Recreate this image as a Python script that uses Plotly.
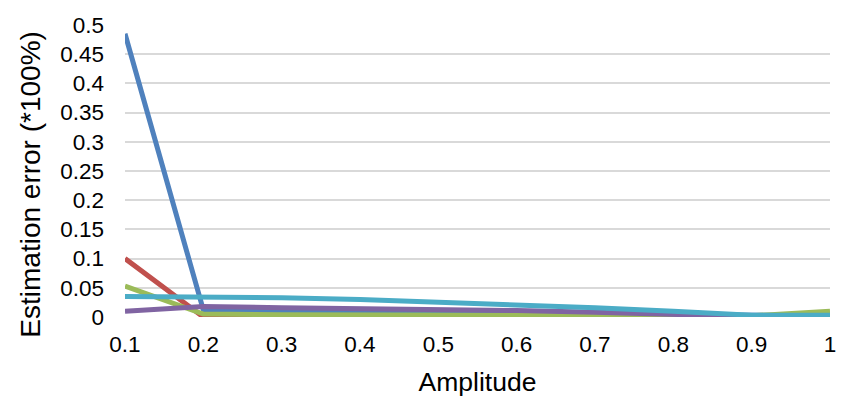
import plotly.graph_objects as go

amplitude = [0.1, 0.2, 0.3, 0.4, 0.5, 0.6, 0.7, 0.8, 0.9, 1.0]
series_blue = [0.485, 0.012, 0.010, 0.009, 0.008, 0.007, 0.006, 0.004, 0.002, 0.002]
series_red = [0.100, 0.000, 0.000, 0.000, 0.000, 0.000, 0.000, 0.000, 0.000, 0.000]
series_green = [0.053, 0.005, 0.004, 0.004, 0.004, 0.003, 0.003, 0.002, 0.002, 0.010]
series_purple = [0.010, 0.018, 0.016, 0.015, 0.013, 0.011, 0.008, 0.004, 0.001, 0.001]
series_cyan = [0.035, 0.035, 0.033, 0.030, 0.026, 0.021, 0.016, 0.010, 0.003, 0.003]

y_ticks = [0, 0.05, 0.1, 0.15, 0.2, 0.25, 0.3, 0.35, 0.4, 0.45, 0.5]
y_ticktext = ["0", "0.05", "0.1", "0.15", "0.2", "0.25", "0.3", "0.35", "0.4", "0.45", "0.5"]
x_ticktext = ["0.1", "0.2", "0.3", "0.4", "0.5", "0.6", "0.7", "0.8", "0.9", "1"]

fig = go.Figure()
for vals, col in [(series_blue, "#4F81BD"), (series_red, "#C0504D"), (series_green, "#9BBB59"),
                  (series_purple, "#8064A2"), (series_cyan, "#4BACC6")]:
    fig.add_trace(go.Scatter(x=amplitude, y=vals, mode="lines",
                             line=dict(color=col, width=5), showlegend=False))

font = "Liberation Sans, Arial, sans-serif"
fig.update_layout(
    width=846, height=398,
    margin=dict(l=125, r=16, t=25, b=81),
    plot_bgcolor="white", paper_bgcolor="white",
    font=dict(family=font, size=22.5, color="#000000"),
    xaxis=dict(range=[0.1, 1.0], tickvals=amplitude, ticktext=x_ticktext,
               showgrid=False, zeroline=False, showline=False, automargin=False,
               ticks="", ticklabelstandoff=11,
               title=dict(text="Amplitude", font=dict(size=26.5), standoff=16)),
    yaxis=dict(range=[0, 0.5], tickvals=y_ticks, ticktext=y_ticktext,
               showgrid=True, gridcolor="#D9D9D9", gridwidth=1.5, automargin=False,
               zeroline=False, showline=False, ticks="", ticklabelstandoff=20),
    annotations=[dict(text="Estimation error (*100%)", textangle=-90,
                      xref="paper", yref="paper", x=-0.134, y=0.455,
                      xanchor="center", yanchor="middle", showarrow=False,
                      font=dict(size=28))],
)

fig.write_html("out.html")
